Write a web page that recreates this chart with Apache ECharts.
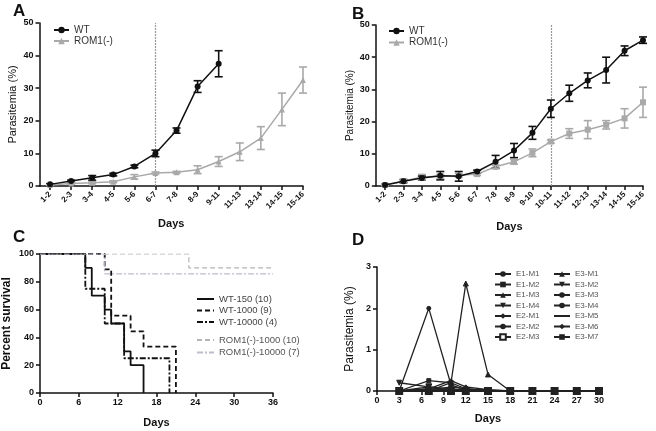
<!DOCTYPE html>
<html><head><meta charset="utf-8">
<script src="https://cdn.jsdelivr.net/npm/echarts@6/dist/echarts.min.js"></script>
<style>html,body{margin:0;padding:0;background:#fff}#c{width:656px;height:431px}</style>
</head><body><div id="c"></div>
<script>
// ---- Panel A data ----
const catsA = ['1-2','2-3','3-4','4-5','5-6','6-7','7-8','8-9','9-11','11-13','13-14','14-15','15-16'];
const wtA = [0.5, 1.5, 2.5, 3.5, 6.0, 10.0, 17.0, 30.5, 37.5];
const wtAErr = [0.2, 0.3, 0.7, 0.4, 0.4, 1.0, 0.8, 1.8, 4.0];
const romA = [0.3, 0.8, 1.0, 1.3, 2.8, 4.0, 4.2, 5.0, 7.5, 10.5, 14.7, 23.5, 32.5];
const romAErr = [0.1, 0.2, 0.3, 0.3, 0.7, 0.3, 0.3, 1.2, 1.5, 2.7, 3.5, 5.0, 4.0];
const vlineA = 5;
// ---- Panel B data ----
const catsB = ['1-2','2-3','3-4','4-5','5-6','6-7','7-8','8-9','9-10','10-11','11-12','12-13','13-14','14-15','15-16'];
const wtB = [0.3, 1.5, 2.5, 3.2, 3.0, 4.5, 7.5, 11.0, 16.5, 24.0, 28.8, 32.8, 36.0, 42.0, 45.3];
const wtBErr = [0.2, 0.5, 0.6, 1.3, 1.5, 0.4, 2.0, 2.2, 2.0, 2.7, 2.5, 2.3, 4.0, 1.5, 1.0];
const romB = [0.3, 1.5, 2.8, 3.0, 3.3, 3.7, 6.0, 7.5, 10.3, 13.8, 16.3, 17.5, 19.0, 21.0, 26.0];
const romBErr = [0.2, 0.4, 0.8, 0.6, 0.6, 0.4, 0.5, 0.7, 1.2, 0.5, 1.5, 2.8, 1.3, 3.0, 4.7];
const vlineB = 9;
// ---- Panel C data (day, percent survival) ----
const wt150 = [[0,100],[7,90],[8,70],[10,60],[11,50],[13,30],[14,20],[16,0]];
const wt1000 = [[0,100],[10,88.9],[11,55.6],[14,44.4],[16,33.3],[21,0]];
const wt10000 = [[0,100],[7,75],[10,50],[13,25],[20,0]];
const rom1000 = [[0,100],[23,90],[36,90]];
const rom10000 = [[0,100],[10,85.7],[36,85.7]];
// ---- Panel D data ----
const daysD = [3, 7, 10, 12, 15, 18, 21, 24, 27, 30];
const namesD = ['E1-M1','E1-M2','E1-M3','E1-M4','E2-M1','E2-M2','E2-M3','E3-M1','E3-M2','E3-M3','E3-M4','E3-M5','E3-M6','E3-M7'];
const valsD = [
  [0, 2.0, 0.15, 0.02, 0, 0, 0, 0, 0, 0],
  [0, 0.25, 0.2, 0.05, 0.02, 0, 0, 0, 0, 0],
  [0, 0, 0.2, 2.6, 0.4, 0, 0, 0, 0, 0],
  [0.2, 0.1, 0.05, 0.02, 0, 0, 0, 0, 0, 0],
  [0, 0.05, 0.25, 0.1, 0.03, 0, 0, 0, 0, 0],
  [0, 0, 0.02, 0, 0, 0, 0, 0, 0, 0],
  [0, 0, 0, 0, 0, 0, 0, 0, 0, 0],
  [0, 0.02, 0.1, 0.05, 0, 0, 0, 0, 0, 0],
  [0, 0.1, 0, 0, 0, 0, 0, 0, 0, 0],
  [0, 0, 0, 0, 0, 0, 0, 0, 0, 0],
  [0, 0, 0, 0, 0, 0, 0, 0, 0, 0],
  [0, 0.05, 0.02, 0, 0, 0, 0, 0, 0, 0],
  [0, 0, 0, 0.05, 0, 0, 0, 0, 0, 0],
  [0, 0, 0, 0, 0, 0, 0, 0, 0, 0]
];
const symbolsD = ['circle','rect','triangle','triangle','diamond','circle','emptyRect','triangle','triangle','circle','circle','none','diamond','rect'];
const rotD = [0,0,0,180,0,0,0,0,180,0,0,0,0,0];
const sizeD = [4,4,5,5,4,6,6,6,6,6,6,0,5,4];

const FONT = 'Liberation Sans, Arial, sans-serif';
const BLACK = '#111';
const GREY = '#a9a9a9';

function errSeries(xi, yi, vals, errs, color) {
  return {
    type: 'custom', xAxisIndex: xi, yAxisIndex: yi, z: 5, silent: true,
    data: vals.map((v, i) => [i, v, errs[i]]),
    renderItem: function (params, api) {
      const x = api.value(0), y = api.value(1), e = api.value(2);
      const t = api.coord([x, y + e]), b = api.coord([x, y - e]);
      const w = 4;
      const st = { stroke: color, lineWidth: 1.6 };
      return { type: 'group', children: [
        { type: 'line', shape: { x1: t[0], y1: t[1], x2: b[0], y2: b[1] }, style: st },
        { type: 'line', shape: { x1: t[0]-w, y1: t[1], x2: t[0]+w, y2: t[1] }, style: st },
        { type: 'line', shape: { x1: b[0]-w, y1: b[1], x2: b[0]+w, y2: b[1] }, style: st }
      ]};
    }
  };
}

const axisLine = { lineStyle: { color: BLACK, width: 1.5 } };
const axisTick = { lineStyle: { color: BLACK, width: 1.5 }, length: 4 };
const labStyle = { color: '#111', fontFamily: FONT, fontWeight: 'bold', fontSize: 9 };

function catAxis(gi, cats, name, gap) {
  const idx = cats.map((c, i) => i);
  return {
    type: 'value', gridIndex: gi, min: -0.5, max: cats.length - 1,
    name: name, nameLocation: 'middle', nameGap: gap,
    nameTextStyle: { fontFamily: FONT, fontWeight: 'bold', fontSize: 11, color: '#111' },
    axisLine: { ...axisLine, onZero: false }, splitLine: { show: false },
    axisTick: { ...axisTick, customValues: idx },
    axisLabel: { ...labStyle, fontSize: 8, rotate: 45, margin: 7, customValues: idx,
      formatter: v => cats[Math.round(v)] }
  };
}
function valAxis(gi, min, max, interval, name, gap, bold, lm, nfs) {
  return {
    type: 'value', gridIndex: gi, min: min, max: max, interval: interval,
    name: name, nameLocation: 'middle', nameGap: gap,
    nameTextStyle: { fontFamily: FONT, fontWeight: bold ? 'bold' : 'normal', fontSize: nfs || 11, color: '#111' },
    axisLine: { show: true, ...axisLine, onZero: false }, splitLine: { show: false },
    axisTick: { show: true, ...axisTick },
    axisLabel: { ...labStyle, margin: lm || 6 }
  };
}

const series = [];
// Panel A
series.push({ name: 'WT', type: 'line', xAxisIndex: 0, yAxisIndex: 0, data: wtA.map((v,i)=>[i,v]),
  symbol: 'circle', symbolSize: 6, itemStyle: { color: BLACK }, lineStyle: { color: BLACK, width: 1.5 }, z: 6,
  markLine: { silent: true, symbol: 'none', label: { show: false }, lineStyle: { color: '#999', type: [2,1], width: 1.2 },
    data: [{ xAxis: vlineA }] } });
series.push({ name: 'ROM1(-)', type: 'line', xAxisIndex: 0, yAxisIndex: 0, data: romA.map((v,i)=>[i,v]),
  symbol: 'triangle', symbolSize: 6, itemStyle: { color: GREY }, lineStyle: { color: GREY, width: 1.5 }, z: 4 });
series.push(errSeries(0, 0, wtA, wtAErr, BLACK));
series.push(errSeries(0, 0, romA, romAErr, GREY));
// Panel B
series.push({ name: 'WT', type: 'line', xAxisIndex: 1, yAxisIndex: 1, data: wtB.map((v,i)=>[i,v]),
  symbol: 'circle', symbolSize: 6, itemStyle: { color: BLACK }, lineStyle: { color: BLACK, width: 1.5 }, z: 6,
  markLine: { silent: true, symbol: 'none', label: { show: false }, lineStyle: { color: '#999', type: [2,1], width: 1.2 },
    data: [{ xAxis: vlineB }] } });
series.push({ name: 'ROM1(-)', type: 'line', xAxisIndex: 1, yAxisIndex: 1, data: romB.map((v,i)=>[i,v]),
  symbol: 'rect', symbolSize: 6, itemStyle: { color: GREY }, lineStyle: { color: GREY, width: 1.5 }, z: 4 });
series.push(errSeries(1, 1, wtB, wtBErr, BLACK));
series.push(errSeries(1, 1, romB, romBErr, GREY));
// Panel C
const cDefs = [
  ['WT-150 (10)', wt150, BLACK, 'solid', 1.8],
  ['WT-1000 (9)', wt1000, BLACK, [5,3], 1.8],
  ['WT-10000 (4)', wt10000, BLACK, [6,2,2,2], 1.8],
  ['ROM1(-)-1000 (10)', rom1000, '#b4b4b4', [5,3], 1.2],
  ['ROM1(-)-10000 (7)', rom10000, '#bdbdcc', [6,2,2,2], 1.2]
];
cDefs.forEach(d => series.push({ name: d[0], type: 'line', xAxisIndex: 2, yAxisIndex: 2, step: 'end', data: d[1],
  symbol: 'none', itemStyle: { color: d[2] }, lineStyle: { color: d[2], type: d[3], width: d[4] } }));
// Panel D
namesD.forEach((n, k) => series.push({ name: n, type: 'line', xAxisIndex: 3, yAxisIndex: 3,
  data: valsD[k].map((v, i) => [daysD[i], v]),
  symbol: symbolsD[k], symbolSize: sizeD[k], symbolRotate: rotD[k], showSymbol: true,
  itemStyle: { color: '#222', borderColor: '#222' }, lineStyle: { color: '#222', width: 1.3 } }));

const legText = { fontFamily: FONT, fontSize: 10, color: '#333' };
const hidden = { opacity: 0 };
const option = {
  animation: false,
  title: [
    { text: 'A', left: 8, top: -2 }, { text: 'B', left: 347, top: 1 },
    { text: 'C', left: 8, top: 224 }, { text: 'D', left: 347, top: 227 }
  ].map(t => ({ ...t, textStyle: { fontFamily: FONT, fontWeight: 'bold', fontSize: 17, color: '#111' } })),
  grid: [
    { left: 39.5, top: 23, width: 263.5, height: 163 },
    { left: 375.8, top: 25, width: 267.2, height: 161 },
    { left: 40, top: 254, width: 233, height: 139 },
    { left: 377, top: 267, width: 222, height: 124 }
  ],
  xAxis: [
    catAxis(0, catsA, 'Days', 32),
    catAxis(1, catsB, 'Days', 35),
    { ...valAxis(2, 0, 36, 6, 'Days', 24, true, 5), nameTextStyle: { fontFamily: FONT, fontWeight: 'bold', fontSize: 11, color: '#111' } },
    { ...valAxis(3, 0, 30, 3, 'Days', 22, true, 5), nameTextStyle: { fontFamily: FONT, fontWeight: 'bold', fontSize: 11, color: '#111' } }
  ],
  yAxis: [
    valAxis(0, 0, 50, 10, 'Parasitemia (%)', 21, false),
    valAxis(1, 0, 50, 10, 'Parasitemia (%)', 21, false, 6, 10),
    valAxis(2, 0, 100, 20, 'Percent survival', 27, true, 6, 12),
    valAxis(3, 0, 3, 1, 'Parasitemia (%)', 21, false, 6, 12)
  ],
  legend: [
    { left: 48, top: 20, orient: 'vertical', itemWidth: 15, itemHeight: 8, itemGap: 1, data: ['WT','ROM1(-)'], textStyle: legText, selectedMode: false },
    { left: 383, top: 21, orient: 'vertical', itemWidth: 15, itemHeight: 8, itemGap: 1.5, data: ['WT','ROM1(-)'], textStyle: legText, selectedMode: false },
    { left: 191, top: 289, orient: 'vertical', itemWidth: 17, itemHeight: 8, itemGap: 1.5,
      data: cDefs.slice(0,3).map(d=>({ name: d[0], itemStyle: hidden })), textStyle: { ...legText, fontSize: 9.5, color: '#444' }, selectedMode: false },
    { left: 191, top: 330, orient: 'vertical', itemWidth: 17, itemHeight: 8, itemGap: 2.5, data: cDefs.slice(3).map(d=>({ name: d[0], itemStyle: hidden })), textStyle: { ...legText, fontSize: 9.5, color: '#555' }, selectedMode: false },
    { left: 489, top: 265, orient: 'vertical', itemWidth: 16, itemHeight: 7, itemGap: 2.5, data: namesD.slice(0,7), textStyle: { ...legText, fontSize: 8, color: '#555' }, selectedMode: false },
    { left: 548, top: 265, orient: 'vertical', itemWidth: 16, itemHeight: 7, itemGap: 2.5, data: namesD.slice(7).map(n => n === 'E3-M5' ? { name: n, itemStyle: hidden } : n), textStyle: { ...legText, fontSize: 8, color: '#555' }, selectedMode: false }
  ],
  series: series
};
const chart = echarts.init(document.getElementById('c'), null, { renderer: 'canvas' });
chart.setOption(option);
</script></body></html>
